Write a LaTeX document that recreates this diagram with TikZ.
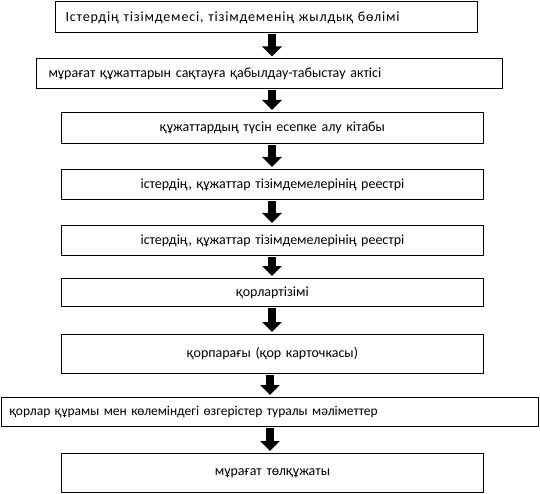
\documentclass[tikz,border=0pt]{standalone}
\usepackage{fontspec}
\setmainfont{Carlito}
\usetikzlibrary{arrows.meta}
\begin{document}
\begin{tikzpicture}[x=1pt,y=-1pt,
  box/.style={draw=black, line width=1pt, anchor=north west, inner ysep=0pt,
    font=\fontsize{14}{16}\selectfont},
  flowarrow/.style={line width=8.5pt, draw=black,
    -{Triangle[width=19pt,length=10pt]}, shorten >=2pt, shorten <=1pt}]
\useasboundingbox (0,0) rectangle (540,494);
\node[box, minimum width=422pt, minimum height=31pt, inner xsep=10pt, text width=402pt, align=left,
  font=\fontsize{14}{16}\selectfont\addfontfeature{LetterSpace=6}] (b1) at (55,1.5) {Істердің тізімдемесі, тізімдеменің жылдық бөлімі};
\node[box, minimum width=466pt, minimum height=30pt, inner xsep=12pt, text width=442pt, align=left] (b2) at (36,58.5) {мұрағат құжаттарын сақтауға қабылдау-табыстау актісі};
\node[box, minimum width=422pt, minimum height=31pt, inner xsep=4pt, text width=414pt, align=center] (b3) at (61,112) {құжаттардың түсін есепке алу кітабы};
\node[box, minimum width=422pt, minimum height=30pt, inner xsep=4pt, text width=414pt, align=center] (b4) at (61,169) {істердің, құжаттар тізімдемелерінің реестрі};
\node[box, minimum width=422pt, minimum height=30pt, inner xsep=4pt, text width=414pt, align=center] (b5) at (61,225) {істердің, құжаттар тізімдемелерінің реестрі};
\node[box, minimum width=422pt, minimum height=28pt, inner xsep=4pt, text width=414pt, align=center] (b6) at (61,278) {қорлартізімі};
\node[box, minimum width=422pt, minimum height=39pt, inner xsep=4pt, text width=414pt, align=center] (b7) at (61,334) {қорпарағы (қор карточкасы)};
\node[box, minimum width=537pt, minimum height=29pt, inner xsep=8pt, text width=521pt, align=left,
  font=\fontsize{13.5}{16}\selectfont] (b8) at (1,397) {қорлар құрамы мен көлеміндегі өзгерістер туралы мәліметтер};
\node[box, minimum width=422pt, minimum height=39pt, inner xsep=4pt, text width=414pt, align=center] (b9) at (61,453) {мұрағат төлқұжаты};
\coordinate (ax) at (272,0);
\coordinate (ay) at (270,0);
\draw[flowarrow] (b1.south -| ax) -- (b2.north -| ax);
\draw[flowarrow] (b2.south -| ax) -- (b3.north -| ax);
\draw[flowarrow] (b3.south -| ax) -- (b4.north -| ax);
\draw[flowarrow] (b4.south -| ax) -- (b5.north -| ax);
\draw[flowarrow] (b5.south -| ax) -- (b6.north -| ax);
\draw[flowarrow] (b6.south -| ax) -- (b7.north -| ax);
\draw[flowarrow] (b7.south -| ay) -- (b8.north -| ay);
\draw[flowarrow] (b8.south -| ay) -- (b9.north -| ay);
\end{tikzpicture}
\end{document}
